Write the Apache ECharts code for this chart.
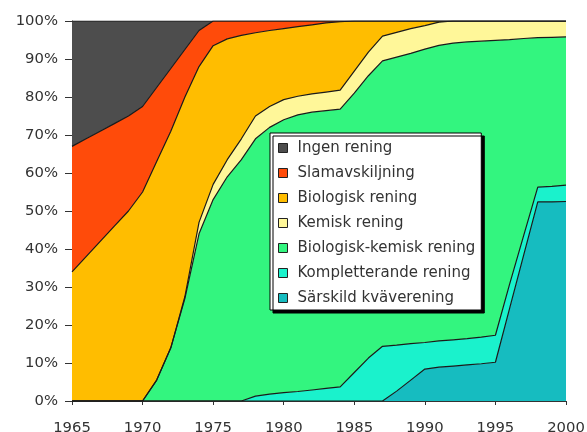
<!DOCTYPE html>
<html>
<head>
<meta charset="utf-8">
<script src="https://cdn.jsdelivr.net/npm/echarts@6/dist/echarts.min.js"></script>
<style>
html,body{margin:0;padding:0;background:#fff;}
#chart{width:587px;height:432px;}
</style>
</head>
<body>
<div id="chart"></div>
<script>
// Categories (years)
var years = ['1965','1966','1967','1968','1969','1970','1971','1972','1973','1974','1975','1976','1977','1978','1979','1980','1981','1982','1983','1984','1985','1986','1987','1988','1989','1990','1991','1992','1993','1994','1995','1996','1997','1998','1999','2000'];

// Series values (percent share, stacked bottom to top)
var sarskildKvaverening   = [0,0,0,0,0,0,0,0,0,0,0,0,0,0,0,0,0,0,0,0,0,0,0,2.6,5.5,8.4,8.9,9.2,9.5,9.8,10.2,24.3,38.4,52.4,52.4,52.5];
var kompletterandeRening = [0,0,0,0,0,0,0,0,0,0,0,0,0,1.3,1.8,2.2,2.5,2.9,3.3,3.7,7.5,11.3,14.4,12.1,9.6,7.0,6.9,6.9,6.9,7.0,7.1,6.4,5.1,3.9,4.1,4.3];
var biologiskKemisk      = [0,0,0,0,0,0,5.5,14,27,44,53,59,63.5,67.7,70.2,71.8,72.8,73.1,73.1,73.1,73.5,74.3,75.1,75.8,76.4,77.2,77.8,78.1,78.1,77.9,77.6,64.4,51.9,39.3,39.2,39.0];
var kemiskRening         = [0,0,0,0,0,0,0,0,0.5,3,4,4.5,5.5,6,5.5,5.3,4.9,4.8,4.9,5,5.8,6.2,6.5,6.5,6.5,6.2,6.1,5.8,5.5,5.3,5.1,4.9,4.6,4.4,4.3,4.2];
var biologiskRening      = [34,38,42,46,50,55,57.5,57,52.5,41,36.5,31.8,27.2,21.9,20,18.7,18.3,18.2,18.2,18,13.2,8.2,4,3,2,1.2,0.3,0,0,0,0,0,0,0,0,0];
var slamavskiljning      = [33,31,29,27,25,22.5,19.5,16.5,12.5,9.5,6.5,4.7,3.8,3.1,2.5,2,1.5,1,0.5,0.2,0,0,0,0,0,0,0,0,0,0,0,0,0,0,0,0];
var ingenRening          = [33,31,29,27,25,22.5,17.5,12.5,7.5,2.5,0,0,0,0,0,0,0,0,0,0,0,0,0,0,0,0,0,0,0,0,0,0,0,0,0,0];

// Series names (legend order top to bottom)
var legendNames = ['Ingen rening','Slamavskiljning','Biologisk rening','Kemisk rening','Biologisk-kemisk rening','Kompletterande rening','Särskild kväverening'];

var FONT = 'DejaVu Sans';

function areaSeries(name, data, color) {
  return {
    name: name,
    type: 'line',
    stack: 'total',
    data: data,
    symbol: 'none',
    showSymbol: false,
    smooth: false,
    color: color,
    itemStyle: {color: color},
    lineStyle: {color: '#1a1a1a', width: 1.2},
    areaStyle: {color: color, opacity: 1},
    emphasis: {disabled: true},
    animation: false
  };
}

var chart = echarts.init(document.getElementById('chart'), null, {renderer: 'canvas'});
chart.setOption({
  backgroundColor: '#ffffff',
  animation: false,
  grid: {left: 72, right: 21, top: 21, bottom: 31, containLabel: false, outerBoundsMode: 'none'},
  legend: {
    data: legendNames,
    orient: 'vertical',
    left: 270,
    top: 133,
    icon: 'rect',
    itemWidth: 9,
    itemHeight: 9,
    itemGap: 9,
    padding: [7, 6, 4, 8],
    backgroundColor: '#ffffff',
    borderColor: '#000000',
    borderWidth: 1,
    shadowColor: '#000000',
    shadowOffsetX: 3,
    shadowOffsetY: 3,
    shadowBlur: 0,
    itemStyle: {borderColor: '#222', borderWidth: 1},
    textStyle: {fontFamily: FONT, fontSize: 15, color: '#333', lineHeight: 16, padding: [0,0,0,5]},
    selectedMode: false
  },
  xAxis: {
    type: 'category',
    data: years,
    boundaryGap: false,
    axisLine: {lineStyle: {color: '#333', width: 1}},
    axisTick: {show: true, interval: 4, length: 4, lineStyle: {color: '#333'}},
    axisLabel: {interval: 4, margin: 20, fontFamily: FONT, fontSize: 14.8, color: '#333'},
    splitLine: {show: false}
  },
  yAxis: {
    type: 'value',
    min: 0,
    max: 100,
    interval: 10,
    axisLine: {show: true, lineStyle: {color: '#333', width: 1}},
    axisTick: {show: true, length: 7, lineStyle: {color: '#333'}},
    axisLabel: {formatter: '{value}%', margin: 14, fontFamily: FONT, fontSize: 14.8, color: '#333'},
    splitLine: {show: false}
  },
  series: [
    areaSeries('Särskild kväverening', sarskildKvaverening, '#16bcc0'),
    areaSeries('Kompletterande rening', kompletterandeRening, '#1af2cc'),
    areaSeries('Biologisk-kemisk rening', biologiskKemisk, '#33f57f'),
    areaSeries('Kemisk rening', kemiskRening, '#fff799'),
    areaSeries('Biologisk rening', biologiskRening, '#ffbd00'),
    areaSeries('Slamavskiljning', slamavskiljning, '#ff4b0a'),
    areaSeries('Ingen rening', ingenRening, '#4d4d4d')
  ]
});
</script>
</body>
</html>
